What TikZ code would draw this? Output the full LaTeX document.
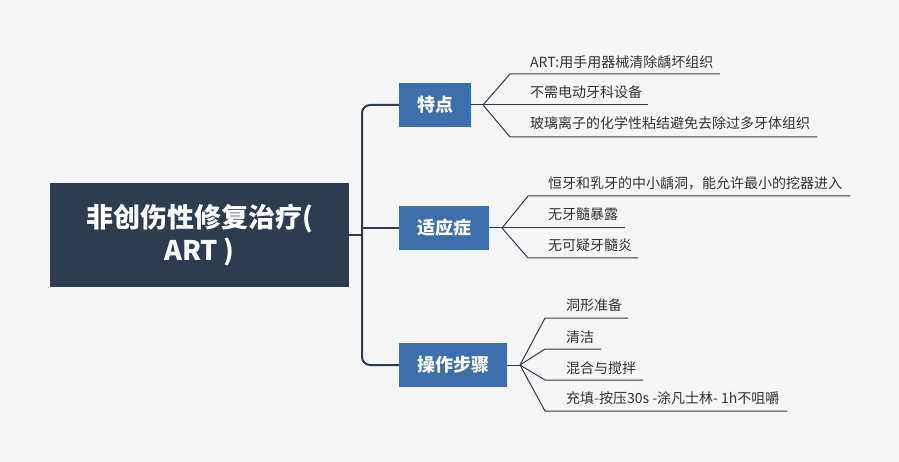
\documentclass[tikz,border=0pt]{standalone}
\usepackage{fontspec}
\setmainfont{Noto Sans CJK SC}
\newfontfamily\cjk{Noto Sans CJK SC}
\definecolor{bgc}{HTML}{F6F6F6}
\definecolor{rootc}{HTML}{2F3C4E}
\definecolor{brc}{HTML}{3D6FAD}
\definecolor{linec}{HTML}{2F3C4E}
\definecolor{txtc}{HTML}{333333}
\tikzset{
  rootbox/.style={fill=rootc, text=white, font=\cjk\bfseries\fontsize{27}{33}\selectfont, minimum width=299pt, minimum height=104pt, align=center, inner sep=0pt},
  brbox/.style={fill=brc, text=white, font=\cjk\bfseries\fontsize{18}{20}\selectfont, minimum height=44pt, inner xsep=18pt, inner ysep=0pt},
  leaf/.style={anchor=west, text=txtc, font=\cjk\fontsize{14}{16}\selectfont, inner sep=0pt},
  trunk/.style={draw=linec, line width=2pt},
  twig/.style={draw=linec, line width=1pt},
}
\begin{document}
\begin{tikzpicture}[x=1pt,y=-1pt]
\fill[bgc] (0,0) rectangle (899,462);
\useasboundingbox (0,0) rectangle (899,462);

\node[rootbox] (root) at (199.5,235) {非创伤性修复治疗(\\ART )};

\node[brbox, anchor=west] (b1) at (399,105) {特点};
\node[brbox, anchor=west] (b2) at (399,228) {适应症};
\node[brbox, anchor=west] (b3) at (399,365) {操作步骤};

\coordinate (t1) at (362,105);
\coordinate (t2) at (362,228);
\coordinate (t3) at (362,365);
\coordinate (tr) at (362,235);

\draw[trunk, rounded corners=8pt] (b1.west) -- (t1) -- (t3) -- (b3.west);
\draw[trunk] (b2.west) -- (t2);
\draw[trunk] (root.east) -- (tr);

% branch 1
\coordinate (f1) at (483,105);
\draw[twig] (b1.east) -- (f1);
\node[leaf] (l11) at (530,62) {ART:用手用器械清除龋坏组织};
\node[leaf] (l12) at (530,92) {不需电动牙科设备};
\node[leaf] (l13) at (530,123) {玻璃离子的化学性粘结避免去除过多牙体组织};
\coordinate (l11s) at (510,74); \coordinate (l11e) at (720,74);
\coordinate (l12e) at (648,105);
\coordinate (l13s) at (510,137); \coordinate (l13e) at (817,137);
\draw[twig] (f1) -- (l11s) -- (l11e);
\draw[twig] (f1) -- (l12e);
\draw[twig] (f1) -- (l13s) -- (l13e);

% branch 2
\coordinate (f2) at (502,228);
\draw[twig] (b2.east) -- (f2);
\node[leaf] (l21) at (548,183) {恒牙和乳牙的中小龋洞，能允许最小的挖器进入};
\node[leaf] (l22) at (548,214) {无牙髓暴露};
\node[leaf] (l23) at (548,245) {无可疑牙髓炎};
\coordinate (l21s) at (528,196); \coordinate (l21e) at (850,196);
\coordinate (l22e) at (625,228);
\coordinate (l23s) at (528,258); \coordinate (l23e) at (638,258);
\draw[twig] (f2) -- (l21s) -- (l21e);
\draw[twig] (f2) -- (l22e);
\draw[twig] (f2) -- (l23s) -- (l23e);

% branch 3
\coordinate (f3) at (520,365);
\draw[twig] (b3.east) -- (f3);
\node[leaf] (l31) at (566,305) {洞形准备};
\node[leaf] (l32) at (566,337) {清洁};
\node[leaf] (l33) at (566,368) {混合与搅拌};
\node[leaf] (l34) at (566,398) {充填-按压30s -涂凡士林- 1h不咀嚼};
\coordinate (l31s) at (545,318); \coordinate (l31e) at (628,318);
\coordinate (l32s) at (545,349); \coordinate (l32e) at (601,349);
\coordinate (l33s) at (545,380); \coordinate (l33e) at (643,380);
\coordinate (l34s) at (545,411); \coordinate (l34e) at (787,411);
\draw[twig] (f3) -- (l31s) -- (l31e);
\draw[twig] (f3) -- (l32s) -- (l32e);
\draw[twig] (f3) -- (l33s) -- (l33e);
\draw[twig] (f3) -- (l34s) -- (l34e);
\end{tikzpicture}
\end{document}
